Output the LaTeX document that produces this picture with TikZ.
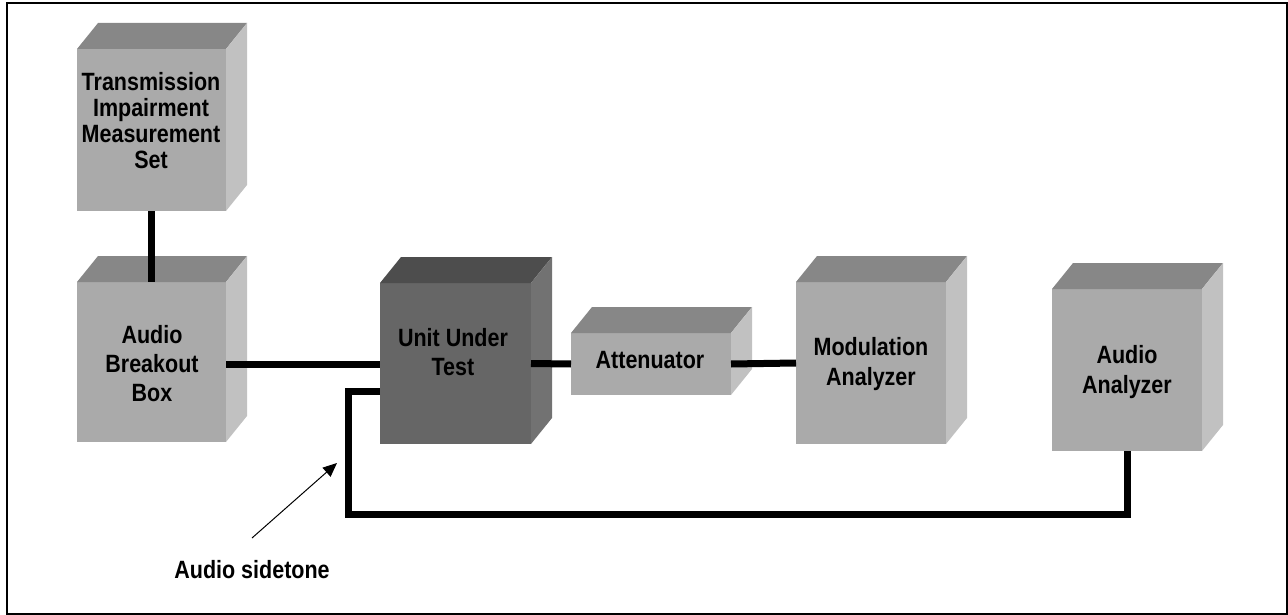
\documentclass[tikz,border=0pt]{standalone}
\usepackage{fontspec}
\usetikzlibrary{arrows.meta}
\newfontfamily\lblfont{Liberation Sans}[FakeStretch=0.86]
\definecolor{frontgray}{HTML}{AAAAAA}
\definecolor{topgray}{HTML}{878787}
\definecolor{sidegray}{HTML}{C1C1C1}
\definecolor{frontdark}{HTML}{666666}
\definecolor{topdark}{HTML}{4D4D4D}
\definecolor{sidedark}{HTML}{727272}
% 3-D instrument box: name, left, top, width, height, front, top, side colours
\newcommand\instbox[8]{%
  \node[anchor=north west, fill=#6, inner sep=0pt, outer sep=0pt,
        minimum width=#4pt, minimum height=#5pt] (#1) at (#2,#3) {};
  \fill[#7] (#1.north west) -- ++(21,-26) -- ++(#4,0) -- (#1.north east) -- cycle;
  \fill[#8] (#1.north east) -- ++(21,-26) -- ([shift={(21,-26)}]#1.south east)
            -- (#1.south east) -- cycle;
}
\tikzset{
  wire/.style={line width=7pt, black},
  label/.style={font=\lblfont\bfseries\fontsize{25}{29}\selectfont, align=center, inner sep=0pt},
}
\begin{document}
\begin{tikzpicture}[x=1pt, y=-1pt]
  \useasboundingbox (0,0) rectangle (1288,615);
  \draw[line width=2pt] (7,3.5) rectangle (1286.5,614);

  \instbox{tims}{77}{49}{149}{162}{frontgray}{topgray}{sidegray}
  \instbox{abb}{77}{282}{149}{160}{frontgray}{topgray}{sidegray}
  \instbox{uut}{380}{283}{151}{161}{frontdark}{topdark}{sidedark}
  \instbox{att}{571}{333}{160}{62}{frontgray}{topgray}{sidegray}
  \instbox{mod}{796}{282}{150}{162}{frontgray}{topgray}{sidegray}
  \instbox{aa}{1052}{289}{150}{162}{frontgray}{topgray}{sidegray}

  \node[label, font=\lblfont\bfseries\fontsize{25}{26}\selectfont] (timsl) at (151,121)
       {Transmission\\Impairment\\Measurement\\Set};
  \node[label] (abbl) at (152,364) {Audio\\Breakout\\Box};
  \node[label] (uutl) at (453,352) {Unit Under\\Test};
  \node[label] (attl) at (650,360) {Attenuator};
  \node[label, font=\lblfont\bfseries\fontsize{25}{30}\selectfont] (modl) at (871,364) {Modulation\\Analyzer};
  \node[label, font=\lblfont\bfseries\fontsize{25}{30}\selectfont] (aal) at (1127,372) {Audio\\Analyzer};

  % cabling
  \draw[wire] (tims.south) -- (abb.north);
  \draw[wire] ([yshift=-2pt]abb.east) -- ([yshift=-2pt]abb.east -| uut.west);
  \draw[wire] (uut.east) -- (att.west);
  \draw[wire] (att.east) -- (mod.west);
  \coordinate (loopnw) at (348,391);
  \coordinate (loopse) at (1127,514);
  \draw[wire] (uut.west |- loopnw) -- (loopnw) |- (loopse) -- (aa.south);

  % sidetone callout
  \node[label] (side) at (252,570) {Audio sidetone};
  \coordinate (arrtail) at (252,538);
  \coordinate (arrtip) at (337,463);
  \draw[line width=1pt, -{Triangle[length=14pt,width=12pt]}] (arrtail) -- (arrtip);
\end{tikzpicture}
\end{document}
